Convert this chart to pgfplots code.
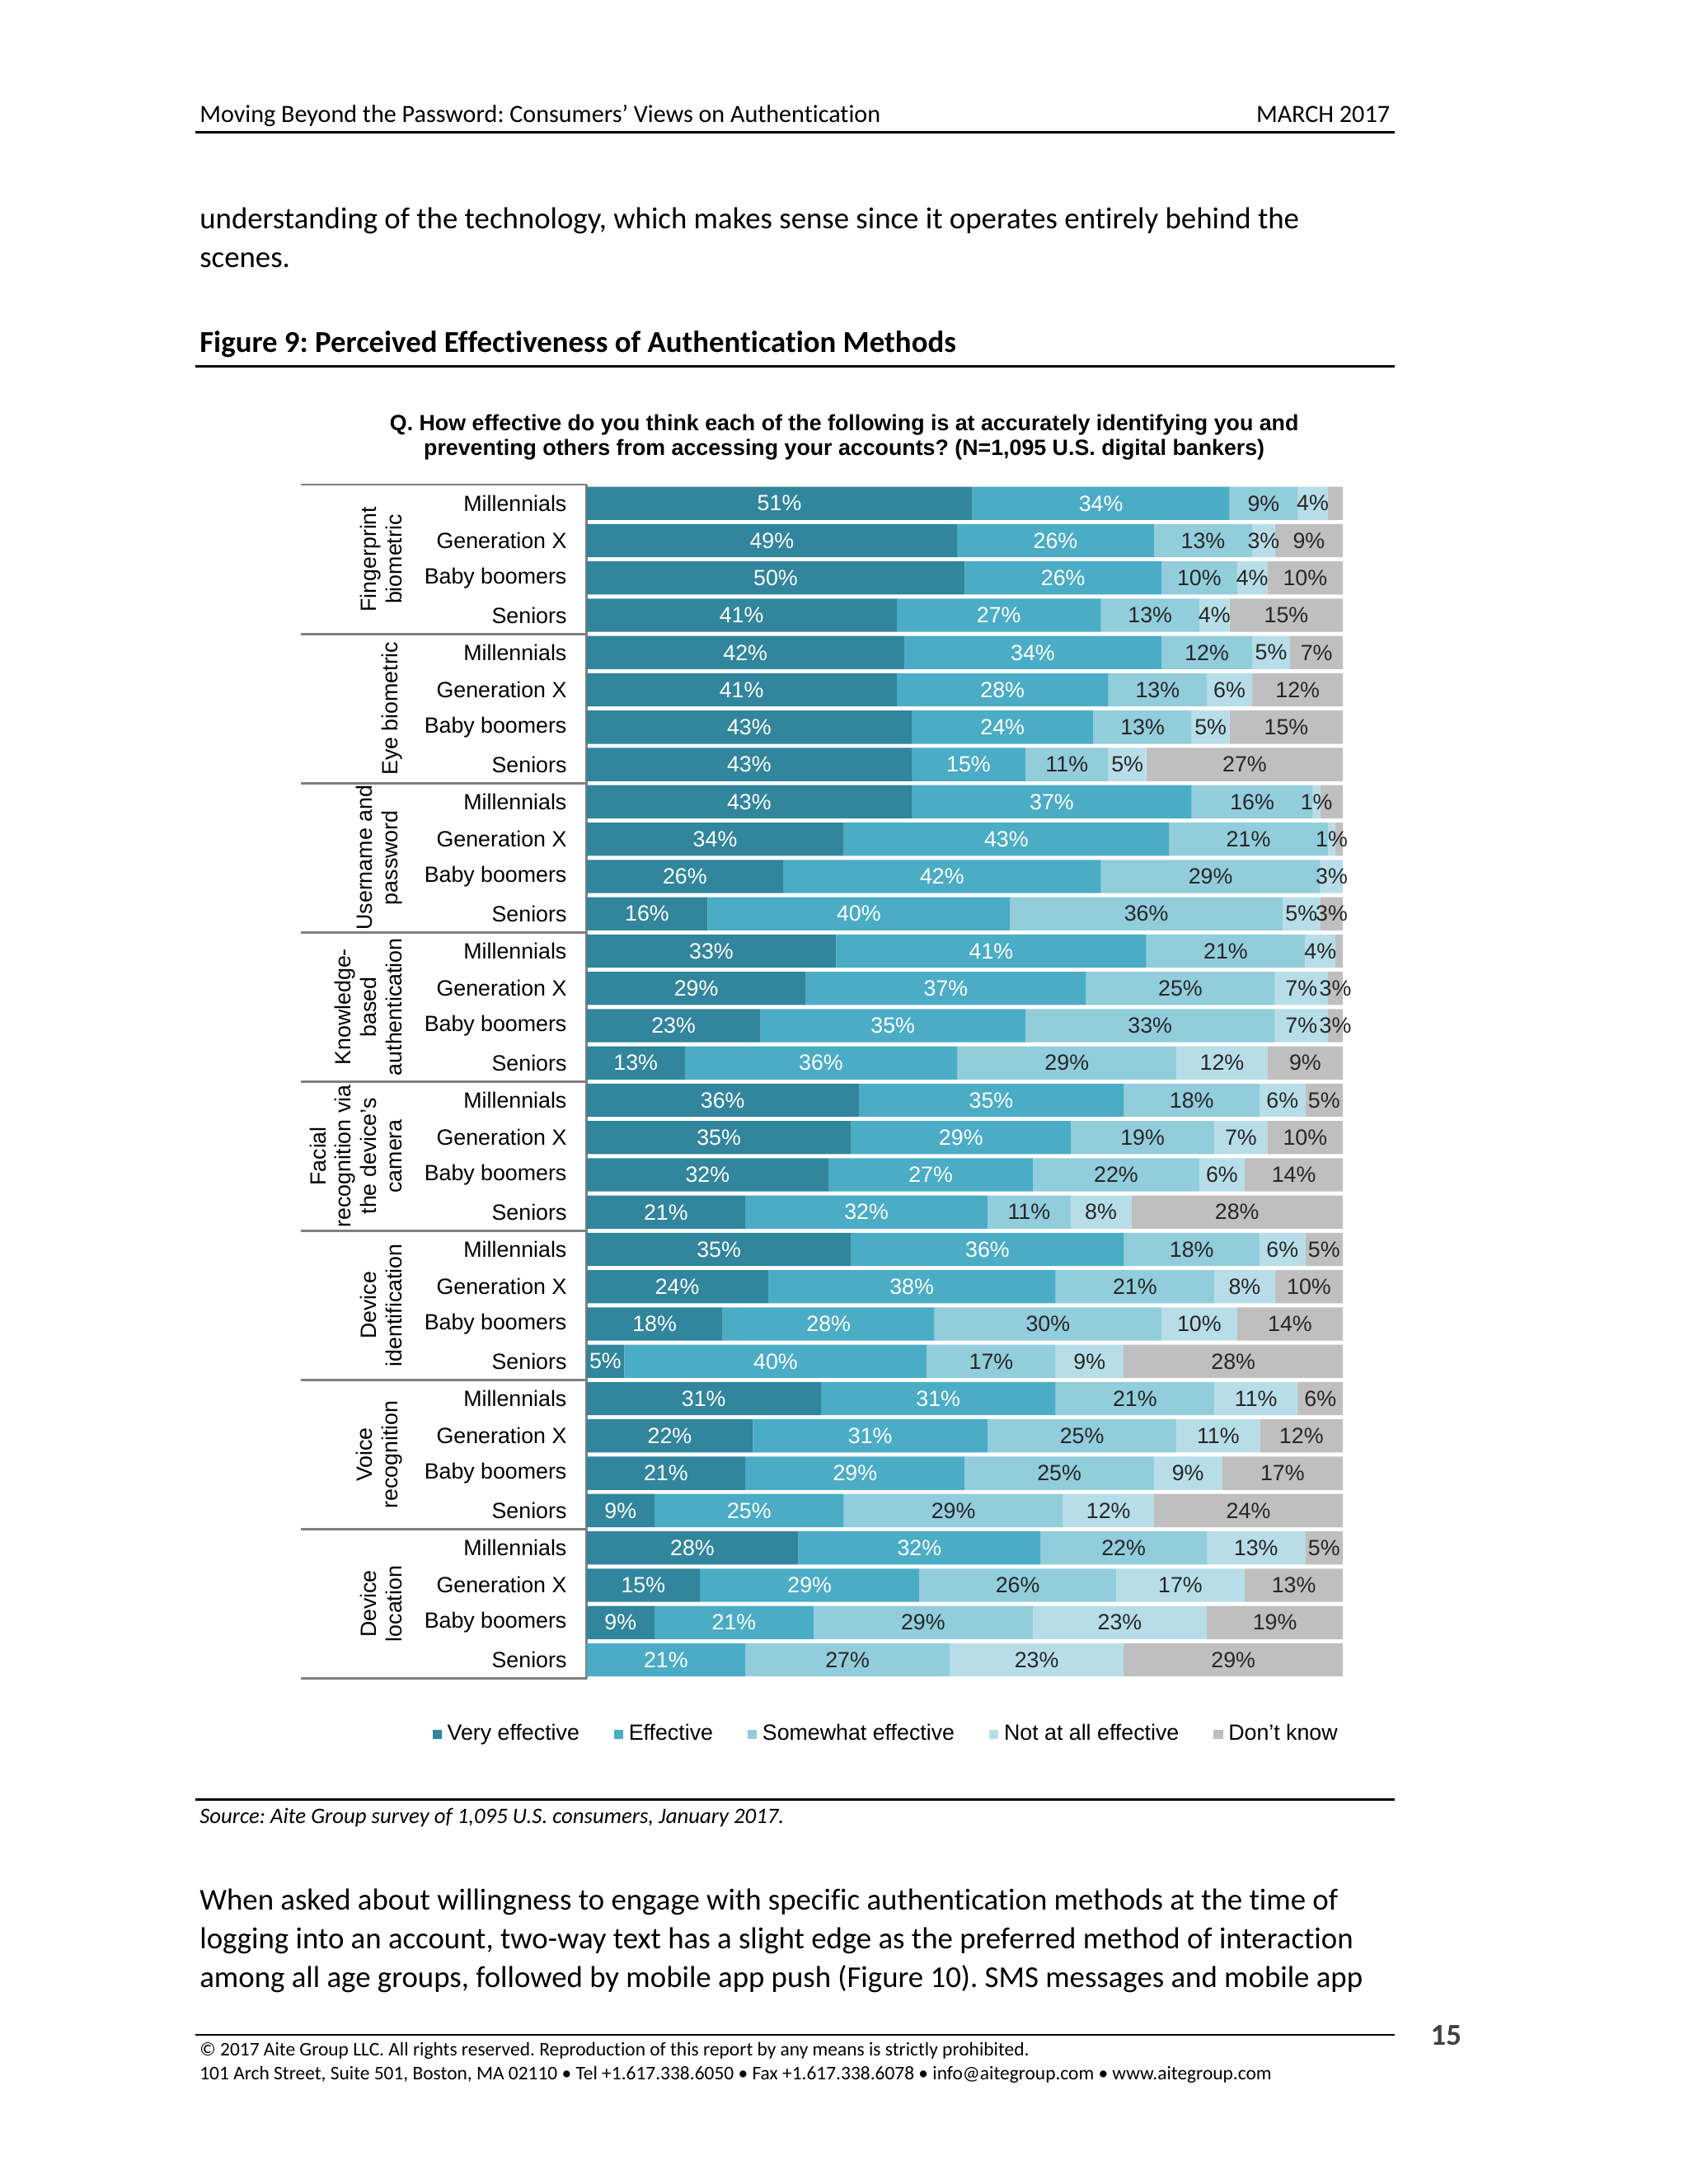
\documentclass[border=0pt]{standalone}
\usepackage{fontspec}
\setmainfont{Carlito}[Ligatures={TeX,NoCommon}]
\newfontfamily\arial{Liberation Sans}
\usepackage{pgfplots}
\usepackage{pgfplotstable}
\pgfplotsset{compat=1.18}
\definecolor{cVE}{HTML}{31859C}
\definecolor{cE}{HTML}{4BACC6}
\definecolor{cSE}{HTML}{92CDDC}
\definecolor{cNA}{HTML}{B7DEE8}
\definecolor{cDK}{HTML}{BFBFBF}
\definecolor{rulegray}{HTML}{808080}
\def\u{0.50495pt}
\def\nolbl{-}
\newcommand\lbl{\ifx\pgfplotspointmeta\nolbl\else\pgfplotspointmeta\%\fi}
\newcommand\cf{\arial\fontsize{8}{9.2}\selectfont}

% rows top to bottom; dk = width of the grey piece, ldk = its printed label
\pgfplotstableread{
y  ve e  se na dk lve ldk
0  51 34 9  4  2  51  -
1  49 26 13 3  9  49  9
2  50 26 10 4  10 50  10
3  41 27 13 4  15 41  15
4  42 34 12 5  7  42  7
5  41 28 13 6  12 41  12
6  43 24 13 5  15 43  15
7  43 15 11 5  26 43  27
8  43 37 16 1  3  43  -
9  34 43 21 1  1  34  -
10 26 42 29 3  0  26  -
11 16 40 36 5  3  16  3
12 33 41 21 4  1  33  -
13 29 37 25 7  2  29  3
14 23 35 33 7  2  23  3
15 13 36 29 12 10 13  9
16 36 35 18 6  5  36  5
17 35 29 19 7  10 35  10
18 32 27 22 6  13 32  14
19 21 32 11 8  28 21  28
20 35 36 18 6  5  35  5
21 24 38 21 8  9  24  10
22 18 28 30 10 14 18  14
23 5  40 17 9  29 5   28
24 31 31 21 11 6  31  6
25 22 31 25 11 11 22  12
26 21 29 25 9  16 21  17
27 9  25 29 12 25 9   24
28 28 32 22 13 5  28  5
29 15 29 26 17 13 15  13
30 9  21 29 23 18 9   19
31 0  21 27 23 29 -   29
}\data

\pgfplotsset{
  seg/.style 2 args={fill=#1, draw=none,
    point meta=explicit symbolic, nodes near coords=\lbl,
    every node near coord/.append style={text=#2}},
}

\begin{document}
\frenchspacing
\begin{tikzpicture}[x=\u, y=-\u]
\useasboundingbox (0,0) rectangle (1212,1568);

% page text
\node[anchor=base west, inner sep=0, font=\fontsize{9}{11}\selectfont] at (143,88)
  {Moving Beyond the Password: Consumers’ Views on Authentication};
\node[anchor=base east, inner sep=0, font=\fontsize{9}{11}\selectfont] at (998,88) {MARCH 2017};
\draw[line width=0.7pt] (140,95) -- (1001,95);
\node[anchor=base west, inner sep=0, font=\fontsize{11}{13}\selectfont] at (143,164)
  {understanding of the technology, which makes sense since it operates entirely behind the};
\node[anchor=base west, inner sep=0, font=\fontsize{11}{13}\selectfont] at (143,192) {scenes.};
\node[anchor=base west, inner sep=0, font=\fontsize{11}{13}\selectfont\bfseries] at (143,253)
  {Figure 9: Perceived Effectiveness of Authentication Methods};
\draw[line width=1pt] (140,263) -- (1001,263);

\node[anchor=base, inner sep=0, font=\arial\fontsize{8}{9.2}\selectfont\bfseries] at (606,309)
  {Q. How effective do you think each of the following is at accurately identifying you and};
\node[anchor=base, inner sep=0, font=\arial\fontsize{8}{9.2}\selectfont\bfseries] at (606,327)
  {preventing others from accessing your accounts? (N=1,095 U.S. digital bankers)};

\draw[line width=0.7pt] (140,1292) -- (1001,1292);
\node[anchor=base west, inner sep=0, font=\fontsize{8}{10}\selectfont\itshape] at (143,1309)
  {Source: Aite Group survey of 1,095 U.S. consumers, January 2017.};
\node[anchor=base west, inner sep=0, font=\fontsize{11}{13}\selectfont] at (143,1371)
  {When asked about willingness to engage with specific authentication methods at the time of};
\node[anchor=base west, inner sep=0, font=\fontsize{11}{13}\selectfont] at (143,1399)
  {logging into an account, two-way text has a slight edge as the preferred method of interaction};
\node[anchor=base west, inner sep=0, font=\fontsize{11}{13}\selectfont] at (143,1427)
  {among all age groups, followed by mobile app push (Figure 10). SMS messages and mobile app};
\draw[line width=0.7pt] (140,1461) -- (1001,1461);
\node[inner sep=0, text=black!75, font=\fontsize{11}{13}\selectfont\bfseries] at (1038,1461) {15};
\node[anchor=base west, inner sep=0, font=\fontsize{7}{9}\selectfont] at (143,1476)
  {© 2017 Aite Group LLC. All rights reserved. Reproduction of this report by any means is strictly prohibited.};
\node[anchor=base west, inner sep=0, font=\fontsize{7}{9}\selectfont] at (143,1493)
  {101 Arch Street, Suite 501, Boston, MA 02110 • Tel +1.617.338.6050 • Fax +1.617.338.6078 • info@aitegroup.com • www.aitegroup.com};

\begin{axis}[
  at={(212.58pt,-175.72pt)}, anchor=north west,
  scale only axis, width=274.19pt, height=432.74pt,
  xbar stacked, bar width=0.89,
  xmin=0, xmax=100, ymin=-0.5, ymax=31.5, y dir=reverse,
  hide x axis, axis y line*=left,
  y axis line style={rulegray, line width=0.8pt},
  major tick length=0pt,
  ytick={0,...,31},
  yticklabels={Millennials,Generation X,Baby boomers,Seniors,
    Millennials,Generation X,Baby boomers,Seniors,
    Millennials,Generation X,Baby boomers,Seniors,
    Millennials,Generation X,Baby boomers,Seniors,
    Millennials,Generation X,Baby boomers,Seniors,
    Millennials,Generation X,Baby boomers,Seniors,
    Millennials,Generation X,Baby boomers,Seniors,
    Millennials,Generation X,Baby boomers,Seniors},
  yticklabel style={font=\cf, inner sep=0pt, xshift=-7pt, anchor=east},
  every node near coord/.append style={font=\cf, anchor=center, inner sep=0pt},
  clip=false,
  legend style={at={(-0.2044,-0.0467)}, anchor=west, draw=none, fill=none,
    legend columns=-1, font=\cf, inner sep=0pt,
    /tikz/every even column/.append style={column sep=10.5pt}},
  legend image code/.code={\fill[#1] (0pt,-1.7pt) rectangle (3.4pt,1.7pt);},
]
\addplot[seg={cVE}{white}] table[x=ve, y=y, meta=lve]{\data};
\addlegendentry{Very effective}
\addplot[seg={cE}{white}] table[x=e, y=y, meta=e]{\data};
\addlegendentry{Effective}
\addplot[seg={cSE}{black!85}] table[x=se, y=y, meta=se]{\data};
\addlegendentry{Somewhat effective}
\addplot[seg={cNA}{black!85}] table[x=na, y=y, meta=na]{\data};
\addlegendentry{Not at all effective}
\addplot[seg={cDK}{black!85}] table[x=dk, y=y, meta=ldk]{\data};
\addlegendentry{Don’t know}

% group dividers on the left
\draw[rulegray, line width=0.8pt] (axis cs:-37.75,-0.5) -- (axis cs:0,-0.5);
\draw[rulegray, line width=0.8pt] (axis cs:-37.75,3.5) -- (axis cs:0,3.5);
\draw[rulegray, line width=0.8pt] (axis cs:-37.75,7.5) -- (axis cs:0,7.5);
\draw[rulegray, line width=0.8pt] (axis cs:-37.75,11.5) -- (axis cs:0,11.5);
\draw[rulegray, line width=0.8pt] (axis cs:-37.75,15.5) -- (axis cs:0,15.5);
\draw[rulegray, line width=0.8pt] (axis cs:-37.75,19.5) -- (axis cs:0,19.5);
\draw[rulegray, line width=0.8pt] (axis cs:-37.75,23.5) -- (axis cs:0,23.5);
\draw[rulegray, line width=0.8pt] (axis cs:-37.75,27.5) -- (axis cs:0,27.5);
\draw[rulegray, line width=0.8pt] (axis cs:-37.75,31.5) -- (axis cs:0,31.5);

\node[rotate=90, anchor=south, align=center, inner sep=0pt, font=\cf] at (axis cs:-24.3,1.5) {Fingerprint\\biometric};
\node[rotate=90, anchor=south, align=center, inner sep=0pt, font=\cf] at (axis cs:-24.3,5.5) {Eye biometric};
\node[rotate=90, anchor=south, align=center, inner sep=0pt, font=\cf] at (axis cs:-24.3,9.5) {Username and\\password};
\node[rotate=90, anchor=south, align=center, inner sep=0pt, font=\cf] at (axis cs:-24.3,13.5) {Knowledge-\\based\\authentication};
\node[rotate=90, anchor=south, align=center, inner sep=0pt, font=\cf] at (axis cs:-24.3,17.5) {Facial\\recognition via\\the device’s\\camera};
\node[rotate=90, anchor=south, align=center, inner sep=0pt, font=\cf] at (axis cs:-24.3,21.5) {Device\\identification};
\node[rotate=90, anchor=south, align=center, inner sep=0pt, font=\cf] at (axis cs:-24.3,25.5) {Voice\\recognition};
\node[rotate=90, anchor=south, align=center, inner sep=0pt, font=\cf] at (axis cs:-24.3,29.5) {Device\\location};
\end{axis}
\end{tikzpicture}
\end{document}
